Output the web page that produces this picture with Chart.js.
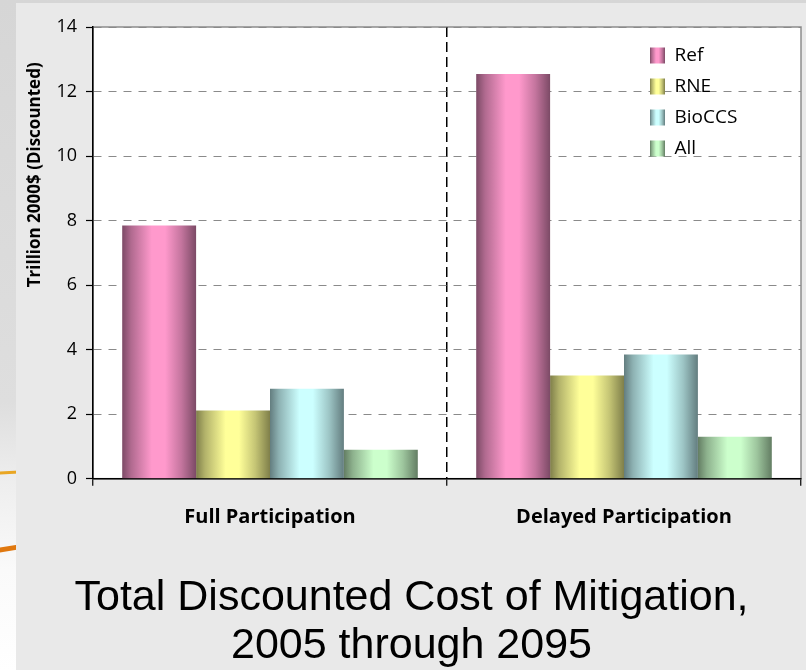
<!DOCTYPE html>
<html>
<head>
<meta charset="utf-8">
<script src="https://cdn.jsdelivr.net/npm/chart.js@4.4.1/dist/chart.umd.min.js"></script>
<style>
  html, body { margin: 0; padding: 0; }
  body {
    width: 806px; height: 670px; overflow: hidden; position: relative;
    background: linear-gradient(180deg, #d6d6d6 0%, #dedede 60%, #eeeeee 72%, #fafafa 85%, #ffffff 100%);
  }
  .swoosh { position: absolute; left: -6px; width: 30px; }
  .s1 { top: 471px; height: 3px; background: #e9a623; transform: rotate(-3deg); }
  .s2 { top: 546px; height: 5px; background: #e0780f; transform: rotate(-9deg); }
  #panel { position: absolute; left: 16px; top: 3px; width: 790px; height: 667px; background: #e9e9e9; }
</style>
</head>
<body>
<div class="swoosh s1"></div>
<div class="swoosh s2"></div>
<div id="panel"><canvas id="myChart" width="790" height="667"></canvas></div>
<script>
// data
const categories = ['Full Participation', 'Delayed Participation'];
const seriesNames = ['Ref', 'RNE', 'BioCCS', 'All'];
const refValues = [7.85, 12.54];
const rneValues = [2.11, 3.2];
const bioccsValues = [2.79, 3.85];
const allValues = [0.9, 1.3];
const yTicks = [0, 2, 4, 6, 8, 10, 12, 14];
const yTitle = 'Trillion 2000$ (Discounted)';
const chartTitle = ['Total Discounted Cost of Mitigation,', '2005 through 2095'];

// light centre / dark edge of each "metal" bar
const lightColors = ['#ff99cc', '#ffff99', '#ccffff', '#ccffcc'];
const darkColors = ['#7c4a66', '#7f7f4a', '#637d7f', '#637d63'];

const gillish = '"Open Sans", Lato, sans-serif';

function mix(a, b, t) {
  const pa = [1, 3, 5].map(k => parseInt(a.substr(k, 2), 16));
  const pb = [1, 3, 5].map(k => parseInt(b.substr(k, 2), 16));
  return 'rgb(' + pa.map((v, k) => Math.round(v + (pb[k] - v) * t)).join(',') + ')';
}

function metal(ctx, x0, x1, i) {
  const g = ctx.createLinearGradient(x0, 0, x1, 0);
  g.addColorStop(0, darkColors[i]);
  g.addColorStop(0.12, mix(darkColors[i], lightColors[i], 0.4));
  g.addColorStop(0.4, lightColors[i]);
  g.addColorStop(0.58, lightColors[i]);
  g.addColorStop(0.8, mix(darkColors[i], lightColors[i], 0.55));
  g.addColorStop(1, darkColors[i]);
  return g;
}

const metalPlugin = {
  id: 'metal',
  afterLayout(chart) {
    // park the legend in the upper right corner of the plot
    const lg = chart.legend;
    const w = lg.width, h = lg.height;
    lg.left = 622; lg.right = lg.left + w;
    lg.top = 31; lg.bottom = lg.top + h;
  },
  beforeDraw(chart) {
    const {ctx, chartArea: a} = chart;
    ctx.save();
    ctx.fillStyle = '#ffffff';
    ctx.fillRect(a.left, a.top, a.width, a.height);
    ctx.strokeStyle = '#8c8c8c';
    ctx.lineWidth = 1.5;
    ctx.strokeRect(a.left, a.top, a.width, a.height);
    ctx.restore();

    chart.data.datasets.forEach((ds, i) => {
      chart.getDatasetMeta(i).data.forEach(bar => {
        const half = bar.width / 2;
        bar.options = Object.assign({}, bar.options, { backgroundColor: metal(ctx, bar.x - half, bar.x + half, i) });
      });
    });

    const lg = chart.legend;
    const bx = lg.left + lg.options.labels.padding;
    lg.legendItems.forEach((item, i) => {
      item.fillStyle = metal(ctx, bx, bx + lg.options.labels.boxWidth, i);
    });
  }
};

const seriesValues = [refValues, rneValues, bioccsValues, allValues];

const ctx = document.getElementById('myChart').getContext('2d');
const chart = new Chart(ctx, {
  type: 'bar',
  data: {
    labels: categories,
    datasets: seriesNames.map((name, i) => ({
      label: name,
      data: seriesValues[i],
      backgroundColor: lightColors[i],
      borderWidth: 0,
      barPercentage: 1,
      categoryPercentage: 0.835
    }))
  },
  options: {
    responsive: false,
    animation: false,
    devicePixelRatio: 1,
    layout: { padding: { left: 6, top: 24, right: 5, bottom: 0 } },
    scales: {
      x: {
        grid: {
          offset: true,
          color: c => c.index === 1 ? '#000' : 'rgba(0,0,0,0)',
          lineWidth: 1.5,
          tickColor: '#000',
          tickLength: 7,
          tickWidth: 1.2
        },
        border: { color: '#000', width: 1.5, dash: [10, 5] },
        ticks: { color: '#000', font: { family: gillish, size: 20, weight: 'bold' }, padding: 20, maxRotation: 0 },
        afterFit: s => { s.height = 95; }
      },
      y: {
        min: 0,
        max: 14,
        afterBuildTicks: s => { s.ticks = yTicks.map(v => ({ value: v })); },
        grid: { color: '#8a8a8a', lineWidth: 1, tickColor: '#000', tickLength: 7, tickWidth: 1.2 },
        border: { color: '#000', width: 1.5, dash: [8, 7] },
        ticks: { color: '#000', font: { family: gillish, size: 18 }, padding: 9 },
        title: {
          display: true,
          text: yTitle + '\u00a0'.repeat(8),
          align: 'end',
          color: '#000',
          font: { family: gillish, size: 17, weight: 'bold' },
          padding: { top: 3, bottom: 0 }
        },
        afterFit: s => { s.width = 71; }
      }
    },
    plugins: {
      legend: {
        position: 'chartArea',
        align: 'start',
        labels: {
          color: '#000',
          font: { family: gillish, size: 19 },
          boxWidth: 15,
          boxHeight: 16,
          padding: 12
        }
      },
      title: {
        display: true,
        position: 'bottom',
        text: chartTitle,
        color: '#000',
        font: { family: '"Liberation Sans", Arial, sans-serif', size: 43, weight: 'normal', lineHeight: 1.12 },
        padding: 0
      },
      tooltip: { enabled: false }
    }
  },
  plugins: [metalPlugin]
});
</script>
</body>
</html>
